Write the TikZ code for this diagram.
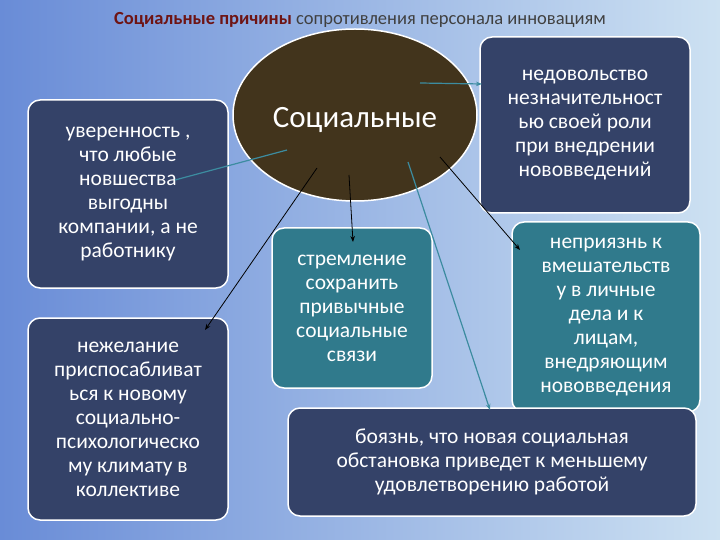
\documentclass[tikz,border=0pt]{standalone}
\usepackage{fontspec}
\setmainfont{Carlito}
\usetikzlibrary{arrows.meta,shapes.geometric}
\definecolor{bgL}{RGB}{105,140,215}
\definecolor{bgR}{RGB}{205,225,242}
\definecolor{dbox}{RGB}{52,66,104}
\definecolor{tbox}{RGB}{48,122,140}
\definecolor{ell}{RGB}{66,52,28}
\definecolor{ttl}{RGB}{110,20,20}
\definecolor{tln}{RGB}{60,140,160}
\begin{document}
\begin{tikzpicture}[x=1pt,y=-1pt,
  box/.style={draw=white,line width=1.5pt,rounded corners=12pt,text=white,align=center,font=\fontsize{21.5}{24}\selectfont,inner sep=2pt},
  dk/.style={box,fill=dbox},
  tl/.style={box,fill=tbox},
  blk/.style={draw=black,line width=0.8pt,-{Stealth[length=6pt]}},
  teal/.style={draw=tln,line width=1.2pt,-{Stealth[length=6pt]}}]
\shade[left color=bgL,right color=bgR] (0,0) rectangle (720,540);
\useasboundingbox (0,0) rectangle (720,540);
\node (title) at (360,20) {\fontsize{18.5}{20}\selectfont\textcolor{ttl}{\textbf{Социальные причины}} \textcolor{black!75}{сопротивления персонала инновациям}};
\node[ellipse,draw=white,line width=1.5pt,fill=ell,minimum width=244pt,minimum height=172pt] (e) at (355,115) {};
\node[text=white,font=\fontsize{31}{34}\selectfont] (et) at (355,120) {Социальные};
\node[dk,minimum width=200pt,minimum height=188pt] (a) at (128,194) {уверенность ,\\что любые\\новшества\\выгодны\\компании, а не\\работнику};
\node[dk,minimum width=200pt,minimum height=202pt] (b) at (128,419) {нежелание\\приспосабливат\\ься к новому\\социально-\\психологическо\\му климату в\\коллективе};
\node[dk,minimum width=210pt,minimum height=176pt] (c) at (585,125) {недовольство\\незначительност\\ью своей роли\\при внедрении\\нововведений};
\node[tl,minimum width=160pt,minimum height=160pt] (d) at (352,308) {стремление\\сохранить\\привычные\\социальные\\связи};
\node[tl,minimum width=188pt,minimum height=190pt] (f) at (606,317) {неприязнь к\\вмешательств\\у в личные\\дела и к\\лицам,\\внедряющим\\нововведения};
\node[dk,minimum width=408pt,minimum height=108pt] (g) at (492,462) {боязнь, что новая социальная\\обстановка приведет к меньшему\\удовлетворению работой};
\coordinate (s1) at (287,150); \coordinate (t1) at (175,180);
\coordinate (s2) at (420,83); \coordinate (t2) at (482,84);
\coordinate (s3) at (317,168); \coordinate (t3) at (205,330);
\coordinate (s4) at (349,175); \coordinate (t4) at (353,242);
\coordinate (s5) at (408,162); \coordinate (t5) at (490,410);
\coordinate (s6) at (440,157); \coordinate (t6) at (520,250);
\draw[teal,-] (s1) -- (t1);
\draw[teal] (s2) -- (t2);
\draw[blk] (s3) -- (t3);
\draw[blk] (s4) -- (t4);
\draw[teal] (s5) -- (t5);
\draw[blk] (s6) -- (t6);
\end{tikzpicture}
\end{document}
